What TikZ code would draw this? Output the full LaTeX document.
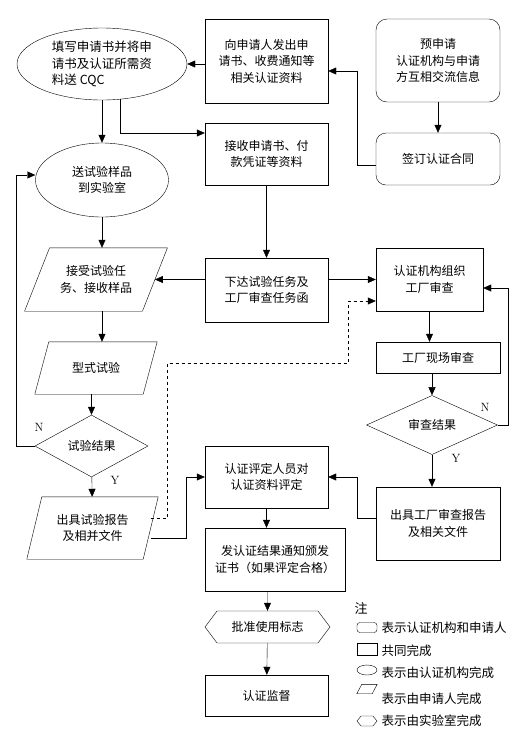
\documentclass[tikz,border=0pt]{standalone}
\usepackage{fontspec}
\newfontfamily\cjk{Noto Sans CJK SC}
\usetikzlibrary{shapes.geometric,shapes.symbols,arrows.meta}
\tikzset{
	,line width = 0.8pt
	,font = \cjk\fontsize{12}{16.5}\selectfont
	,boxnode/.style   = {rectangle, draw=black, align=center, inner sep=0pt}
	,roundnode/.style = {boxnode, rounded corners=11pt}
	,ellnode/.style   = {ellipse, draw=black, align=center, inner sep=0pt}
	,paranode/.style  = {rectangle, align=center, inner sep=0pt}
	,dianode/.style   = {diamond, draw=black, align=center, inner sep=0pt}
	,hexnode/.style   = {signal, signal to=west and east, draw=black, align=center, inner sep=0pt}
	,edgea/.style = {-{Triangle[length=8pt,width=7pt]}}
	,edged/.style = {edgea, dashed}
	,ynnode/.style = {font=\rmfamily\fontsize{12}{12}\selectfont}
	,keytext/.style = {anchor=west, font=\cjk\fontsize{12.5}{14}\selectfont}
}
% outline of a parallelogram round a node
\newcommand{\paraframe}[2]{\draw ([xshift=#2]#1.north west) -- ([xshift=#2]#1.north east) -- ([xshift=-#2]#1.south east) -- ([xshift=-#2]#1.south west) -- cycle;}

\begin{document}
\begin{tikzpicture}[x=1pt, y=-1pt]
		\fill[white] (0,0) rectangle (523,748);
		\useasboundingbox (0,0) rectangle (523,748);
		% upper part
		\node[ellnode, minimum width=170pt, minimum height=72pt, align=left, font=\cjk\fontsize{12.5}{16.5}\selectfont] at (102, 64) (apply) {填写申请书并将申\\请书及认证所需资\\料送 CQC};
		\node[boxnode, minimum width=123pt, minimum height=84pt] at (266.5, 61) (notice) {向申请人发出申\\请书、收费通知等\\相关认证资料};
		\node[roundnode, minimum width=124pt, minimum height=83pt] at (438, 60.5) (pre) {预申请\\认证机构与申请\\方互相交流信息};
		\node[roundnode, rounded corners=10pt, minimum width=124pt, minimum height=52pt] at (438, 159) (sign) {签订认证合同};
		\node[boxnode, minimum width=123pt, minimum height=62pt] at (266.5, 154) (receive) {接收申请书、付\\款凭证等资料};
		\node[ellnode, minimum width=133pt, minimum height=74pt] at (102, 180) (sample) {送试验样品\\到实验室};
		% middle part
		\node[paranode, minimum width=117.5pt, minimum height=63pt] at (96, 279.5) (accept) {接受试验任\\务、接收样品};
		\node[boxnode, minimum width=123pt, minimum height=64pt] at (266.5, 290) (xiada) {下达试验任务及\\工厂审查任务函};
		\node[boxnode, minimum width=107pt, minimum height=63pt] at (429.5, 279.5) (org) {认证机构组织\\工厂审查};
		\node[paranode, minimum width=108pt, minimum height=52pt] at (96, 368) (typetest) {型式试验};
		\node[boxnode, minimum width=124pt, minimum height=31pt] at (438, 357.5) (site) {工厂现场审查};
		\node[dianode, minimum width=113pt, minimum height=62pt] at (91.5, 446) (test) {试验结果};
		\node[dianode, minimum width=131pt, minimum height=42pt] at (432, 425) (check) {审查结果};
		% lower part
		\node[paranode, minimum width=116pt, minimum height=62pt] at (92.5, 528) (report) {出具试验报告\\及相并文件};
		\node[boxnode, minimum width=123pt, minimum height=62pt] at (266.5, 477) (eval) {认证评定人员对\\认证资料评定};
		\node[boxnode, minimum width=124pt, minimum height=73pt] at (438, 523.5) (freport) {出具工厂审查报告\\及相关文件};
		\node[boxnode, minimum width=140pt, minimum height=63pt] at (275, 559.5) (issue) {发认证结果通知颁发\\证书（如果评定合格）};
		\node[hexnode, signal pointer angle=106, minimum width=125pt, minimum height=32pt] at (267.5, 627) (mark) {批准使用标志};
		\node[boxnode, minimum width=123pt, minimum height=41pt] at (266.5, 695.5) (super) {认证监督};
		\paraframe{accept}{12.5pt}
		\paraframe{typetest}{7pt}
		\paraframe{report}{7.5pt}
		% N / Y
		\node[ynnode] at (39, 427) (ntest) {N};
		\node[ynnode] at (115, 480) (ytest) {Y};
		\node[ynnode] at (485, 407) (ncheck) {N};
		\node[ynnode] at (456, 458) (ycheck) {Y};
		% legend
		\node[keytext, anchor=center, font=\cjk\fontsize{13}{14}\selectfont] at (361, 608) (note) {注};
		\node[boxnode, rounded corners=3pt, minimum width=20pt, minimum height=10pt] at (367, 627.5) (keyround) {};
		\node[boxnode, minimum width=20pt, minimum height=12pt] at (367, 649) (keybox) {};
		\node[ellnode, minimum width=20pt, minimum height=10pt] at (367, 670) (keyell) {};
		\node[paranode, minimum width=15pt, minimum height=9pt] at (367, 689) (keypara) {};
		\paraframe{keypara}{2.5pt}
		\node[hexnode, signal pointer angle=102, minimum width=20pt, minimum height=10pt] at (367, 721) (keyhex) {};
		\node[keytext] at (378, 628) (txtround) {表示认证机构和申请人};
		\node[keytext] at (378, 651) (txtbox) {共同完成};
		\node[keytext] at (378, 673) (txtell) {表示由认证机构完成};
		\node[keytext] at (378, 699) (txtpara) {表示由申请人完成};
		\node[keytext] at (378, 721) (txthex) {表示由实验室完成};
		% connectors
		\draw[edgea] (notice.west |- apply) -- (apply.east);
		\draw[edgea] (pre) edge (sign);
		\draw[edgea] ([yshift=-6pt]sign.west) -- ++(-19,0) |- ([yshift=-10pt]notice.east);
		\draw[edgea] (apply) edge (sample);
		\draw[edgea] (apply.-63) |- ([yshift=21pt]receive.west);
		\draw[edgea] (receive) edge (xiada);
		\draw[edgea] (test.west) -- ++(-19,0) |- ([yshift=5pt]sample.west);
		\draw[edgea] (sample) -- (sample |- accept.north);
		\draw[edgea] (accept.south -| sample) -- (typetest.north -| sample);
		\draw[edgea] (typetest.south -| test) -- (test);
		\draw[edgea] (test) edge (report);
		\draw[edgea] (xiada.west |- accept) -- (accept);
		\draw[edgea] (xiada.east |- org) -- (org);
		\draw[edgea] (org.south) -- (org.south |- site.north);
		\draw[edgea] (site.south -| check) -- (check);
		\draw[edgea] (check.east) -- ++(10,0) |- ([yshift=-8.5pt]org.east);
		\draw[edgea] (check) -- (check |- freport.north);
		\draw[edgea] ([yshift=5.5pt]freport.west) -- ++(-19,0) |- (eval.east);
		\draw[edgea] ([yshift=-10pt]report.east) -- ++(35,0) |- (eval.west);
		\draw[edged] ([yshift=10pt]report.east) -- ++(16.5,0) -- ++(0,-155) -- ++(181,0) |- ([yshift=-21.5pt]org.west);
		\draw[edgea] (eval.south) -- (eval.south |- issue.north);
		\draw[edgea] (issue.south -| mark) -- (mark);
		\draw[edgea] (mark) edge (super);
	\end{tikzpicture}
\end{document}
